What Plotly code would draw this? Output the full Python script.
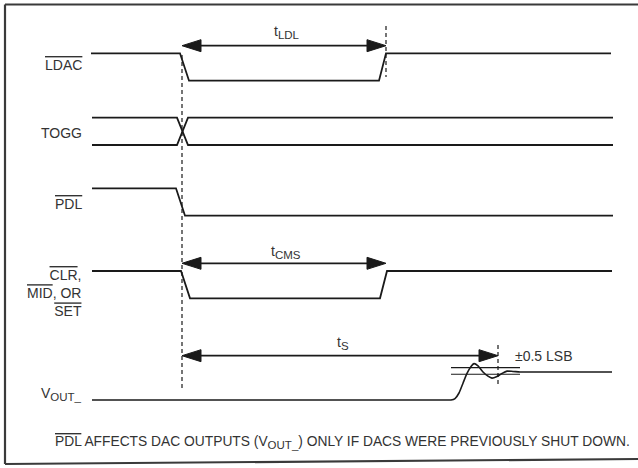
import plotly.graph_objects as go

# ---------------- data: timing events (time units) and logic levels ----------------
SUB = '<sub><span style="font-size:11.5px">{}</span></sub>'

SIGNAL_LABELS = [
    '<span style="text-decoration:overline">LDAC</span>',
    'TOGG',
    '<span style="text-decoration:overline">PDL</span>',
    '<span style="text-decoration:overline">CLR</span>,<br>'
    '<span style="text-decoration:overline">MID</span>, OR<br>'
    '<span style="text-decoration:overline">SET</span>',
    'V' + SUB.format('OUT_'),
]

T_LDAC = [91, 180, 189, 379, 386, 611]
L_LDAC = [1, 1, 0, 0, 1, 1]

T_TOGG = [92, 177, 188, 613]
L_TOGG_A = [1, 1, 0, 0]
L_TOGG_B = [0, 0, 1, 1]

T_PDL = [92, 176, 185, 613]
L_PDL = [1, 1, 0, 0]

T_CLR = [92, 181, 190, 380, 387, 612]
L_CLR = [1, 1, 0, 0, 1, 1]

T_VOUT = [92, 448, 451, 455, 459, 463, 467, 471, 474, 478, 483, 488, 492, 497, 502, 507, 513, 520, 530, 612]
L_VOUT = [0, 0, 0, 0.05, 0.25, 0.6, 0.95, 1.2, 1.3, 1.22, 1.0, 0.85, 0.78, 0.84, 0.95, 1.03, 1.02, 1.0, 1.0, 1.0]

BAND_T = [451, 520]          # ±0.5 LSB error band extent
BAND_L = [1.155, 0.92]       # band limits (level units)

INTERVAL_LABELS = ['t' + SUB.format('LDL'), 't' + SUB.format('CMS'), 't' + SUB.format('S')]
INTERVAL_START = [182, 182, 182]
INTERVAL_END = [386, 386, 498]

MARKER_T = [182, 386, 498]   # dashed reference lines

NOTE = ('<span style="text-decoration:overline">PDL</span> AFFECTS DAC OUTPUTS '
        '(V' + SUB.format('OUT_') + ') ONLY IF DACS WERE PREVIOUSLY SHUT DOWN.')
BAND_LABEL = '±0.5 LSB'

# ---------------- layout / style ----------------
W, H = 638, 468
FONT = dict(family='Liberation Sans Narrow, Liberation Sans, Arial, sans-serif', size=14, color='#333333')
NOTE_FONT = dict(FONT, size=13.8)
LINE_C = '#1a1a1a'
LW = 1.8
# lane: (low y, high y) in page pixels
LANES = {'LDAC': (80.7, 53.3), 'TOGG': (145, 117.7), 'PDL': (215.7, 188.3),
         'CLR': (298.3, 271.0), 'VOUT': (400.0, 372.0)}
LABEL_Y = [64.5, 132.5, 203.5, 292.5, 393.5]
ARROW_Y = [45.7, 263.3, 355.7]
ARROW_LABEL_Y = [32, 251.5, 343]
MARKER_Y = [(55, 390), (26, 77), (345, 385)]


def lane_y(lane, levels):
    lo, hi = LANES[lane]
    return [lo - l * (lo - hi) for l in levels]


fig = go.Figure()


def add_line(x, y, dash=None, width=LW, shape='linear'):
    fig.add_trace(go.Scatter(x=x, y=y, mode='lines', hoverinfo='skip', showlegend=False,
                             line=dict(color=LINE_C, width=width, dash=dash, shape=shape,
                                       smoothing=0.7)))


add_line(T_LDAC, lane_y('LDAC', L_LDAC))
add_line(T_TOGG, lane_y('TOGG', L_TOGG_A))
add_line(T_TOGG, lane_y('TOGG', L_TOGG_B))
add_line(T_PDL, lane_y('PDL', L_PDL))
add_line(T_CLR, lane_y('CLR', L_CLR))
add_line(T_VOUT, lane_y('VOUT', L_VOUT), width=1.6, shape='spline')
for bl in BAND_L:
    add_line(BAND_T, lane_y('VOUT', [bl, bl]), width=1.2)

# dashed markers
for t, (y0, y1) in zip(MARKER_T, MARKER_Y):
    add_line([t, t], [y0, y1], dash='4px,3px', width=1.2)

# interval arrows
HEAD_L, HEAD_W = 19, 6
for lab, t0, t1, ay, ly in zip(INTERVAL_LABELS, INTERVAL_START, INTERVAL_END, ARROW_Y, ARROW_LABEL_Y):
    add_line([t0 + HEAD_L - 2, t1 - HEAD_L + 2], [ay, ay], width=1.8)
    for tip, d in ((t0, 1), (t1, -1)):
        fig.add_trace(go.Scatter(x=[tip, tip + d * HEAD_L, tip + d * HEAD_L, tip],
                                 y=[ay, ay - HEAD_W, ay + HEAD_W, ay], mode='lines',
                                 fill='toself', fillcolor=LINE_C, line=dict(color=LINE_C, width=1),
                                 hoverinfo='skip', showlegend=False))

annotations = []
for lab, y in zip(SIGNAL_LABELS, LABEL_Y):
    annotations.append(dict(x=83.5, y=y, text=lab, showarrow=False, xanchor='right',
                            yanchor='middle', align='right', font=FONT))
label_x = [286.5, 286, 342.5]
for lab, x, y in zip(INTERVAL_LABELS, label_x, ARROW_LABEL_Y):
    annotations.append(dict(x=x, y=y, text=lab, showarrow=False, xanchor='center',
                            yanchor='middle', font=FONT))
annotations.append(dict(x=513, y=356, text=BAND_LABEL, showarrow=False, xanchor='left',
                        yanchor='middle', font=FONT))
annotations.append(dict(x=53, y=442.5, text=NOTE, showarrow=False, xanchor='left',
                        yanchor='middle', font=NOTE_FONT))

frame = dict(type='line', line=dict(color='#3a3a3a', width=2.2), layer='above')
shapes = [
    dict(frame, x0=5, x1=5, y0=4.5, y1=464),
    dict(frame, x0=5, x1=640, y0=4.5, y1=4.5),
    dict(frame, x0=5, x1=640, y0=464, y1=459),
]

fig.update_layout(
    width=W, height=H, margin=dict(l=0, r=0, t=0, b=0),
    paper_bgcolor='white', plot_bgcolor='white',
    xaxis=dict(range=[0, W], visible=False, fixedrange=True),
    yaxis=dict(range=[H, 0], visible=False, fixedrange=True),
    annotations=annotations, shapes=shapes, showlegend=False,
)

fig.write_html('out.html', post_script="document.body.style.margin='0';",
               config={'displayModeBar': False})
